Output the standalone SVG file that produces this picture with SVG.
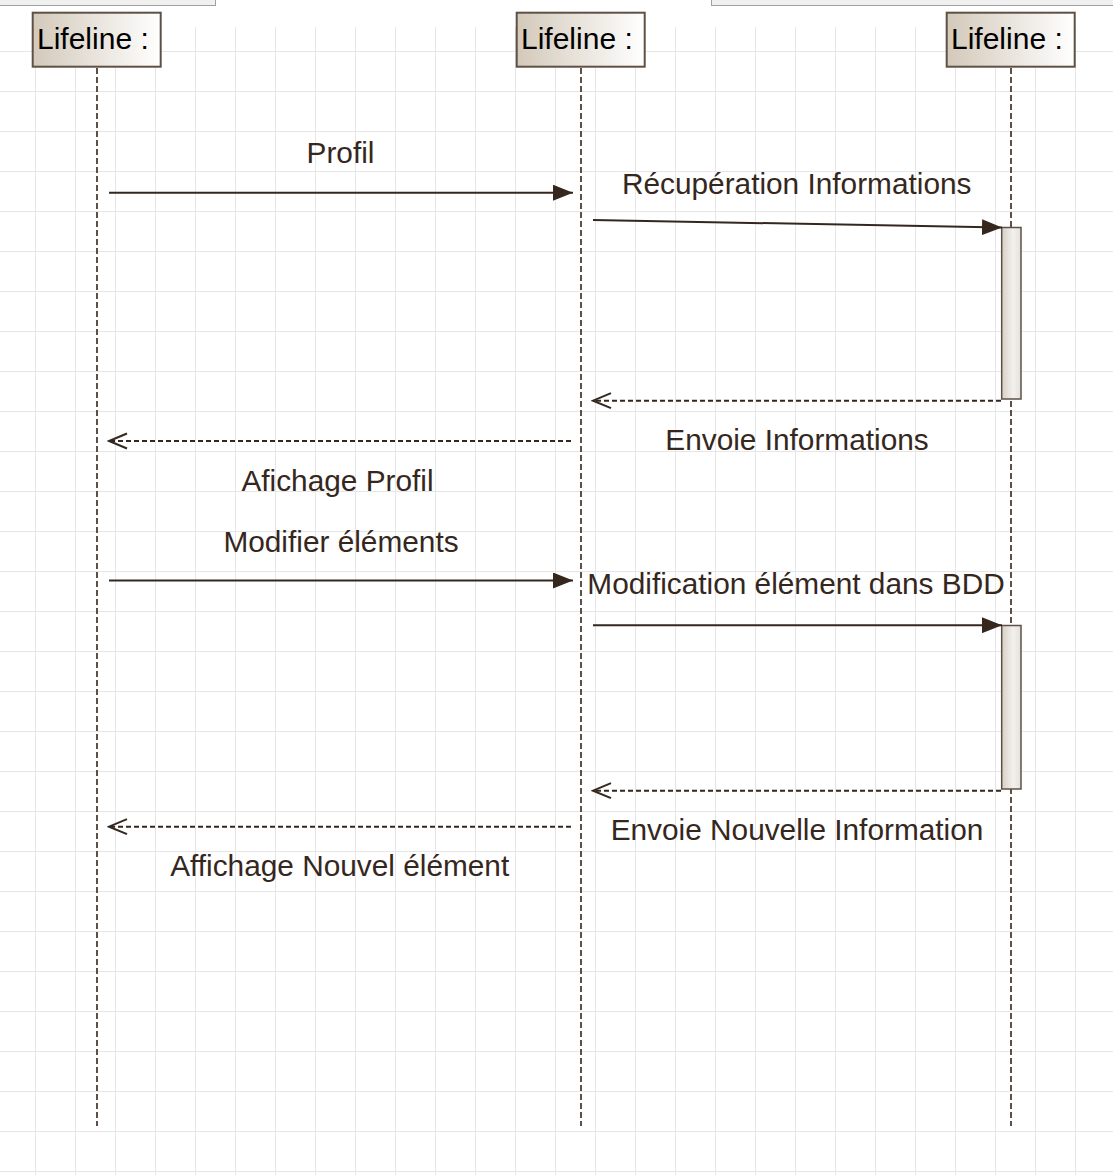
<svg xmlns="http://www.w3.org/2000/svg" width="1113" height="1175" viewBox="0 0 1113 1175">
<defs>
<style>
.grid line{stroke:#e6e6e6;stroke-width:1}
.lifebox{stroke:#5e5045;stroke-width:2;fill:url(#boxGrad)}
.lifetxt{font-family:"Liberation Sans",Arial,sans-serif;font-size:30px;fill:#000}
.lifeline{stroke:#5e5045;stroke-width:2;stroke-dasharray:6 3;fill:none}
.act{stroke:#5e5045;stroke-width:1.5;fill:url(#actGrad)}
.msg{stroke:#35271d;stroke-width:2;fill:none}
.ret{stroke:#35271d;stroke-width:2;stroke-dasharray:5 3;fill:none}
.lbl{font-family:"Liberation Sans",Arial,sans-serif;font-size:29.8px;fill:#35271d;text-anchor:middle}
</style>
<linearGradient id="boxGrad" x1="0" y1="0" x2="1" y2="0">
<stop offset="0" stop-color="#d3c9ba"/>
<stop offset="1" stop-color="#ffffff"/>
</linearGradient>
<linearGradient id="actGrad" x1="0" y1="0" x2="1" y2="0">
<stop offset="0" stop-color="#d6cfc5"/>
<stop offset="0.6" stop-color="#f3f1ee"/>
<stop offset="1" stop-color="#e4e0da"/>
</linearGradient>
<marker id="filled" markerUnits="userSpaceOnUse" markerWidth="20" markerHeight="16" viewBox="0 0 20 16" refX="20" refY="8" orient="auto">
<path d="M0,0 L20,8 L0,16 Z" fill="#35271d"/>
</marker>
<marker id="open" markerUnits="userSpaceOnUse" markerWidth="22" markerHeight="18" viewBox="0 0 22 18" refX="20" refY="9" orient="auto">
<path d="M2,1.5 L20,9 L2,16.5" fill="none" stroke="#35271d" stroke-width="2" stroke-dasharray="none"/>
</marker>
</defs>
<rect x="0" y="0" width="1113" height="1175" fill="#ffffff"/>
<g class="grid">
<line x1="35.5" y1="27" x2="35.5" y2="1175"/><line x1="75.5" y1="27" x2="75.5" y2="1175"/><line x1="115.5" y1="27" x2="115.5" y2="1175"/><line x1="155.5" y1="27" x2="155.5" y2="1175"/><line x1="195.5" y1="27" x2="195.5" y2="1175"/><line x1="235.5" y1="27" x2="235.5" y2="1175"/><line x1="275.5" y1="27" x2="275.5" y2="1175"/><line x1="315.5" y1="27" x2="315.5" y2="1175"/><line x1="355.5" y1="27" x2="355.5" y2="1175"/><line x1="395.5" y1="27" x2="395.5" y2="1175"/><line x1="435.5" y1="27" x2="435.5" y2="1175"/><line x1="475.5" y1="27" x2="475.5" y2="1175"/><line x1="515.5" y1="27" x2="515.5" y2="1175"/><line x1="555.5" y1="27" x2="555.5" y2="1175"/><line x1="595.5" y1="27" x2="595.5" y2="1175"/><line x1="635.5" y1="27" x2="635.5" y2="1175"/><line x1="675.5" y1="27" x2="675.5" y2="1175"/><line x1="715.5" y1="27" x2="715.5" y2="1175"/><line x1="755.5" y1="27" x2="755.5" y2="1175"/><line x1="795.5" y1="27" x2="795.5" y2="1175"/><line x1="835.5" y1="27" x2="835.5" y2="1175"/><line x1="875.5" y1="27" x2="875.5" y2="1175"/><line x1="915.5" y1="27" x2="915.5" y2="1175"/><line x1="955.5" y1="27" x2="955.5" y2="1175"/><line x1="995.5" y1="27" x2="995.5" y2="1175"/><line x1="1035.5" y1="27" x2="1035.5" y2="1175"/><line x1="1075.5" y1="27" x2="1075.5" y2="1175"/>
<line x1="0" y1="51.5" x2="1113" y2="51.5"/><line x1="0" y1="91.5" x2="1113" y2="91.5"/><line x1="0" y1="131.5" x2="1113" y2="131.5"/><line x1="0" y1="171.5" x2="1113" y2="171.5"/><line x1="0" y1="211.5" x2="1113" y2="211.5"/><line x1="0" y1="251.5" x2="1113" y2="251.5"/><line x1="0" y1="291.5" x2="1113" y2="291.5"/><line x1="0" y1="331.5" x2="1113" y2="331.5"/><line x1="0" y1="371.5" x2="1113" y2="371.5"/><line x1="0" y1="411.5" x2="1113" y2="411.5"/><line x1="0" y1="451.5" x2="1113" y2="451.5"/><line x1="0" y1="491.5" x2="1113" y2="491.5"/><line x1="0" y1="531.5" x2="1113" y2="531.5"/><line x1="0" y1="571.5" x2="1113" y2="571.5"/><line x1="0" y1="611.5" x2="1113" y2="611.5"/><line x1="0" y1="651.5" x2="1113" y2="651.5"/><line x1="0" y1="691.5" x2="1113" y2="691.5"/><line x1="0" y1="731.5" x2="1113" y2="731.5"/><line x1="0" y1="771.5" x2="1113" y2="771.5"/><line x1="0" y1="811.5" x2="1113" y2="811.5"/><line x1="0" y1="851.5" x2="1113" y2="851.5"/><line x1="0" y1="891.5" x2="1113" y2="891.5"/><line x1="0" y1="931.5" x2="1113" y2="931.5"/><line x1="0" y1="971.5" x2="1113" y2="971.5"/><line x1="0" y1="1011.5" x2="1113" y2="1011.5"/><line x1="0" y1="1051.5" x2="1113" y2="1051.5"/><line x1="0" y1="1091.5" x2="1113" y2="1091.5"/><line x1="0" y1="1131.5" x2="1113" y2="1131.5"/><line x1="0" y1="1171.5" x2="1113" y2="1171.5"/>
</g>
<g id="tabs">
<rect x="-2" y="-2" width="217.5" height="7.5" fill="#f0f0f0" stroke="#a0a0a0" stroke-width="1"/>
<rect x="711.5" y="-2" width="404" height="7.5" fill="#f0f0f0" stroke="#a0a0a0" stroke-width="1"/>
</g>
<g id="lifeline1">
<line class="lifeline" x1="97" y1="68" x2="97" y2="1126"/>
<rect class="lifebox" x="32.7" y="12.7" width="128" height="54"/>
<text class="lifetxt" x="37" y="49">Lifeline :</text>
</g>
<g id="lifeline2">
<line class="lifeline" x1="581" y1="68" x2="581" y2="1126"/>
<rect class="lifebox" x="516.7" y="12.7" width="128" height="54"/>
<text class="lifetxt" x="521" y="49">Lifeline :</text>
</g>
<g id="lifeline3">
<line class="lifeline" x1="1011" y1="68" x2="1011" y2="1126"/>
<rect class="lifebox" x="946.7" y="12.7" width="128" height="54"/>
<text class="lifetxt" x="951" y="49">Lifeline :</text>
<rect class="act" x="1001.7" y="227.5" width="19.3" height="171.5"/>
<rect class="act" x="1001.7" y="625.5" width="19.3" height="163.5"/>
</g>
<g id="connectors">
<line class="msg" x1="109" y1="192.7" x2="573" y2="192.7" marker-end="url(#filled)"/>
<line class="msg" x1="593" y1="220" x2="1002" y2="227.5" marker-end="url(#filled)"/>
<line class="ret" x1="1001" y1="400.7" x2="593" y2="400.7" marker-end="url(#open)"/>
<line class="ret" x1="571" y1="441" x2="109" y2="441" marker-end="url(#open)"/>
<line class="msg" x1="109" y1="580.5" x2="573" y2="580.5" marker-end="url(#filled)"/>
<line class="msg" x1="593" y1="625.2" x2="1002" y2="625.2" marker-end="url(#filled)"/>
<line class="ret" x1="1001" y1="790.7" x2="593" y2="790.7" marker-end="url(#open)"/>
<line class="ret" x1="571" y1="826.7" x2="109" y2="826.7" marker-end="url(#open)"/>
</g>
<g id="labels">
<text class="lbl" x="340.5" y="163">Profil</text>
<text class="lbl" x="796.7" y="194">Récupération Informations</text>
<text class="lbl" x="797" y="450">Envoie Informations</text>
<text class="lbl" x="337.5" y="490.5">Afichage Profil</text>
<text class="lbl" x="341" y="552">Modifier éléments</text>
<text class="lbl" x="796" y="594">Modification élément dans BDD</text>
<text class="lbl" x="797" y="839.5">Envoie Nouvelle Information</text>
<text class="lbl" x="339.7" y="876">Affichage Nouvel élément</text>
</g>
</svg>
